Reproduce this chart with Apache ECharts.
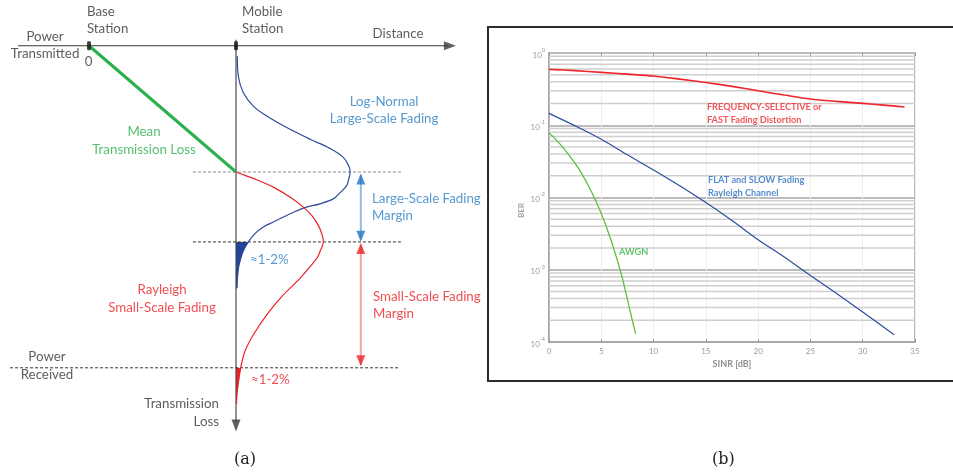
<!DOCTYPE html>
<html><head><meta charset="utf-8">
<script src="https://cdn.jsdelivr.net/npm/echarts@6/dist/echarts.min.js"></script>
<style>html,body{margin:0;padding:0;background:#fff}#c{width:953px;height:475px}</style>
</head><body><div id="c"></div>
<script>
// ---------- (a) link budget: distance (base station = 0, mobile station = 1) vs. normalised loss
const meanLossPath = [[0, 0], [1, 1]];
const meanLoss = 1.0;
const largeScaleEdge = 1.554;
const powerReceived = 2.551;
const axisEnds = { distMin: -0.483, distMax: 2.44, lossTop: -0.047, lossBottom: 2.98 };

// log-normal (large-scale) fading pdf drawn sideways from the mobile station
const lognormLoss    = [0.084, 0.242, 0.372, 0.478, 0.557, 0.648, 0.740, 0.813, 0.884, 0.963, 1.004, 1.063, 1.108, 1.165, 1.213, 1.252, 1.286, 1.344, 1.396, 1.435, 1.488, 1.554, 1.630, 1.740, 1.843, 1.921];
const lognormDensity = [0.009, 0.016, 0.050, 0.118, 0.209, 0.345, 0.503, 0.639, 0.730, 0.771, 0.776, 0.765, 0.753, 0.707, 0.662, 0.571, 0.458, 0.345, 0.254, 0.186, 0.129, 0.084, 0.048, 0.020, 0.010, 0.007];

// Rayleigh (small-scale) fading pdf
const rayleighLoss    = [1.000, 1.008, 1.061, 1.120, 1.199, 1.278, 1.344, 1.423, 1.502, 1.554, 1.632, 1.685, 1.843, 1.974, 2.131, 2.289, 2.420, 2.551, 2.735, 2.835];
const rayleighDensity = [0.000, 0.016, 0.141, 0.254, 0.367, 0.458, 0.515, 0.560, 0.587, 0.594, 0.571, 0.549, 0.435, 0.322, 0.209, 0.118, 0.061, 0.032, 0.009, 0.003];

// fade-margin arrows: distance position and loss extents
const marginArrowDist = 1.849;
const largeMarginSpan = [1.024, 1.535];
const smallMarginSpan = [1.575, 2.528];

// text annotations: [text, distance, loss, anchor, colour]
const diagramLabels = [
  ['Power\nTransmitted', -0.299, -0.005, 'center', 'ink'],
  ['0', -0.003, 0.126, 'center', 'ink'],
  ['Base\nStation', -0.014, -0.201, 'left', 'ink'],
  ['Mobile\nStation', 1.041, -0.201, 'left', 'ink'],
  ['Distance', 2.102, -0.094, 'center', 'ink'],
  ['Log-Normal\nLarge-Scale Fading', 2.007, 0.512, 'center', 'sky'],
  ['Mean\nTransmission Loss', 0.374, 0.752, 'center', 'green'],
  ['Large-Scale Fading\nMargin', 1.925, 1.280, 'left', 'sky'],
  ['≈1-2%', 1.095, 1.691, 'left', 'sky'],
  ['Rayleigh\nSmall-Scale Fading', 0.497, 2.002, 'center', 'red'],
  ['Small-Scale Fading\nMargin', 1.932, 2.055, 'left', 'red'],
  ['Power\nReceived', -0.286, 2.535, 'center', 'ink'],
  ['≈1-2%', 1.102, 2.646, 'left', 'red'],
  ['Transmission\nLoss', 0.884, 2.908, 'right', 'ink']
];

// ---------- (b) BER versus SINR
const sinrFreqSel = [0, 2.5, 5, 7.5, 10, 12.5, 15, 17.5, 20, 22.5, 25, 27.5, 30, 32, 34];
const berFreqSel  = [0.594, 0.57, 0.54, 0.51, 0.48, 0.435, 0.39, 0.345, 0.30, 0.262, 0.231, 0.214, 0.201, 0.19, 0.179];
const sinrFlat = [0, 2.5, 5, 7.5, 10, 12.5, 15, 17.5, 20, 22.5, 25, 27.5, 30, 33];
const berFlat  = [0.146, 0.098, 0.064, 0.039, 0.024, 0.0145, 0.0085, 0.0048, 0.0026, 0.0015, 0.00083, 0.00047, 0.00026, 0.000126];
const sinrAwgn = [0, 1, 2, 3, 4, 5, 6, 7, 8, 8.3];
const berAwgn  = [0.079, 0.056, 0.037, 0.023, 0.0125, 0.006, 0.0024, 0.00078, 0.00019, 0.00013];
const sinrTicks = [0, 35, 5];
const berDecades = [-4, -3, -2, -1, 0];
const berMantissas = [2, 3, 4, 5, 6, 7, 8, 9];
const curveLabels = [
  ['FREQUENCY-SELECTIVE or\nFAST Fading Distortion', 15.1, 0.143, 'red'],
  ['FLAT and SLOW Fading\nRayleigh Channel', 15.2, 0.0142, 'blue'],
  ['AWGN', 6.7, 0.00176, 'green']
];

const C = { ink: '#333333', green: '#2bb14c', sky: '#2b7fc3', red: '#ec2228', navy: '#2d4a9c', fill: '#23429a' };
const BC = { red: '#ee2a2f', blue: '#2a6fc0', green: '#3cb44a' };
const FONT = 'Lato';

const zip = (a, b) => a.map((v, i) => [v, b[i]]);
const sideways = (loss, dens) => loss.map((l, i) => [1 + dens[i], l]);
const lognormPts = sideways(lognormLoss, lognormDensity);
const rayleighPts = sideways(rayleighLoss, rayleighDensity);

// tail areas beyond the margins, closed back along the loss axis
function tail(pts, from) {
  const t = pts.filter(p => p[1] >= from - 1e-9);
  return t.concat([[1, t[t.length - 1][1]], [1, from]]);
}
function areaSeries(poly, color) {
  return {
    type: 'custom', coordinateSystem: 'cartesian2d', xAxisIndex: 0, yAxisIndex: 0,
    data: [[0, 0]], z: 2, silent: true,
    renderItem: (params, api) => ({
      type: 'polygon',
      shape: { points: poly.map(p => api.coord(p)) },
      style: { fill: color }
    })
  };
}
function segment(pts, color, width, extra) {
  return Object.assign({
    type: 'line', xAxisIndex: 0, yAxisIndex: 0, data: pts, symbol: 'none', silent: true,
    lineStyle: { color: color, width: width }, z: 3
  }, extra || {});
}
const triDown = 'path://M0,0L10,0L5,10Z';
const triUp = 'path://M5,0L10,10L0,10Z';
const triRight = 'path://M0,0L10,5L0,10Z';

// 2..9 x 10^k helper grid lines of the log BER axis
const minorGrid = [];
berDecades.slice(0, -1).forEach(e => berMantissas.forEach(m => minorGrid.push(m * Math.pow(10, e))));

const labelData = diagramLabels.map(([t, x, y, anchor, col]) => ({
  value: [x, y],
  label: {
    show: true, formatter: t, color: C[col], fontFamily: FONT, fontSize: 13.3, lineHeight: 17.5,
    position: anchor === 'center' ? 'inside' : (anchor === 'left' ? 'right' : 'left'),
    distance: 0, align: anchor === 'center' ? 'center' : anchor
  }
}));

const chart = echarts.init(document.getElementById('c'), null, { renderer: 'canvas' });
chart.setOption({
  animation: false,
  backgroundColor: '#ffffff',
  title: [
    { text: '(a)', left: 229, top: 447, textStyle: { fontFamily: 'DejaVu Serif', fontWeight: 'normal', fontSize: 16, color: '#222' } },
    { text: '(b)', left: 707, top: 447, textStyle: { fontFamily: 'DejaVu Serif', fontWeight: 'normal', fontSize: 16, color: '#222' } }
  ],
  graphic: [{
    type: 'rect', z: 0, silent: true,
    shape: { x: 488, y: 27, width: 475, height: 354 },
    style: { fill: null, stroke: '#2b2b2b', lineWidth: 2 }
  }],
  grid: [
    { left: 0.8, top: 1.55, width: 455.7, height: 476.25, show: false },
    { left: 549, top: 53, width: 366, height: 289, show: true, borderColor: '#a3a3a3', borderWidth: 1.5 }
  ],
  xAxis: [
    { gridIndex: 0, type: 'value', min: -0.6, max: 2.5, show: false },
    {
      gridIndex: 1, type: 'value', min: sinrTicks[0], max: sinrTicks[1], interval: sinrTicks[2],
      axisLine: { lineStyle: { color: '#a3a3a3', width: 1.5 } },
      axisTick: { inside: true, length: 3, lineStyle: { color: '#999' } },
      axisLabel: { color: '#9a9a9a', fontSize: 8, margin: 5, fontFamily: FONT },
      splitLine: { show: true, lineStyle: { color: '#eeeeee', width: 1 } },
      name: 'SINR [dB]', nameLocation: 'middle', nameGap: 17,
      nameTextStyle: { color: '#8e8e8e', fontSize: 9, fontWeight: 'bold', fontFamily: FONT }
    },
    {
      gridIndex: 1, type: 'value', position: 'top', min: sinrTicks[0], max: sinrTicks[1], interval: sinrTicks[2],
      axisLine: { show: false }, axisTick: { inside: true, length: 3, lineStyle: { color: '#999' } },
      axisLabel: { show: false }, splitLine: { show: false }
    }
  ],
  yAxis: [
    { gridIndex: 0, type: 'value', min: -0.35, max: 3.4, inverse: true, show: false },
    {
      gridIndex: 1, type: 'log', logBase: 10, min: 1e-4, max: 1,
      axisLine: { lineStyle: { color: '#a3a3a3', width: 1.5 } },
      axisTick: { show: false },
      axisLabel: {
        margin: 4, fontFamily: FONT,
        formatter: v => '{b|10}{s|' + Math.round(Math.log10(v)) + '}',
        rich: {
          b: { fontSize: 8, color: '#9a9a9a', fontFamily: FONT, lineHeight: 12, verticalAlign: 'bottom' },
          s: { fontSize: 5.5, color: '#9a9a9a', fontFamily: FONT, lineHeight: 12, verticalAlign: 'top', padding: [0, 0, 6, 0] }
        }
      },
      splitLine: { show: true, lineStyle: { color: '#bcbcbc', width: 2.2 } },
      name: 'BER', nameLocation: 'middle', nameGap: 24, nameRotate: 90,
      nameTextStyle: { color: '#a0a0a0', fontSize: 8, fontWeight: 'bold', fontFamily: FONT, padding: [0, 26, 0, 0] }
    }
  ],
  series: [
    // ----- (a)
    areaSeries(tail(lognormPts, largeScaleEdge), C.fill),
    areaSeries(tail(rayleighPts, powerReceived), C.red),
    segment([[0.707, meanLoss], [2.129, meanLoss]], '#8a8a8a', 1, { lineStyle: { color: '#8a8a8a', width: 1, type: [3, 2] } }),
    segment([[0.707, largeScaleEdge], [2.129, largeScaleEdge]], '#333', 1, { lineStyle: { color: '#333', width: 1, type: [3, 2] } }),
    segment([[-0.537, powerReceived], [2.116, powerReceived]], '#333', 1, { lineStyle: { color: '#333', width: 1, type: [3, 2] } }),
    segment([[axisEnds.distMin, 0], [axisEnds.distMax, 0]], '#3a3a3a', 1.2),
    segment([[1, axisEnds.lossTop], [1, axisEnds.lossBottom]], '#4a4a4a', 1.2),
    segment(meanLossPath, C.green, 3, { z: 4 }),
    segment(lognormPts, C.navy, 1.2, { smooth: 0.35, z: 4 }),
    segment(rayleighPts, C.red, 1.2, { smooth: 0.35, z: 4 }),
    segment([[marginArrowDist, largeMarginSpan[0]], [marginArrowDist, largeMarginSpan[1]]], '#8dbbe3', 2),
    segment([[marginArrowDist, smallMarginSpan[0]], [marginArrowDist, smallMarginSpan[1]]], '#f4a3a3', 2),
    {
      type: 'scatter', xAxisIndex: 0, yAxisIndex: 0, silent: true, z: 5,
      data: [
        { value: [axisEnds.distMax + 0.015, 0], symbol: triRight, symbolSize: [12, 9], itemStyle: { color: '#3a3a3a' } },
        { value: [1, axisEnds.lossBottom + 0.028], symbol: triDown, symbolSize: [9, 12], itemStyle: { color: '#3a3a3a' } },
        { value: [0, 0], symbol: 'roundRect', symbolSize: [4, 9], itemStyle: { color: '#111' } },
        { value: [1, 0], symbol: 'roundRect', symbolSize: [4, 9], itemStyle: { color: '#111' } },
        { value: [marginArrowDist, largeMarginSpan[0] + 0.031], symbol: triUp, symbolSize: [9, 11], itemStyle: { color: '#2577c4' } },
        { value: [marginArrowDist, largeMarginSpan[1] - 0.027], symbol: triDown, symbolSize: [9, 11], itemStyle: { color: '#2577c4' } },
        { value: [marginArrowDist, smallMarginSpan[0] + 0.031], symbol: triUp, symbolSize: [9, 11], itemStyle: { color: '#ec2228' } },
        { value: [marginArrowDist, smallMarginSpan[1] - 0.032], symbol: triDown, symbolSize: [9, 11], itemStyle: { color: '#ec2228' } }
      ]
    },
    {
      type: 'scatter', xAxisIndex: 0, yAxisIndex: 0, silent: true, z: 6,
      symbolSize: 0, data: labelData
    },
    // ----- (b)
    {
      type: 'custom', coordinateSystem: 'cartesian2d', xAxisIndex: 1, yAxisIndex: 1, silent: true, z: 1,
      data: minorGrid.map(v => [sinrTicks[0], v]),
      renderItem: (params, api) => {
        const a = api.coord([sinrTicks[0], api.value(1)]);
        const b = api.coord([sinrTicks[1], api.value(1)]);
        return { type: 'line', shape: { x1: a[0], y1: a[1], x2: b[0], y2: b[1] }, style: { stroke: '#cfcfcf', lineWidth: 1.6 } };
      }
    },
    {
      type: 'line', xAxisIndex: 1, yAxisIndex: 1, data: zip(sinrFreqSel, berFreqSel), symbol: 'none',
      smooth: 0.3, lineStyle: { color: '#f0242b', width: 1.6 }, z: 3, silent: true
    },
    {
      type: 'line', xAxisIndex: 1, yAxisIndex: 1, data: zip(sinrFlat, berFlat), symbol: 'none',
      smooth: 0.3, lineStyle: { color: '#2b4d9f', width: 1.2 }, z: 3, silent: true
    },
    {
      type: 'line', xAxisIndex: 1, yAxisIndex: 1, data: zip(sinrAwgn, berAwgn), symbol: 'none',
      smooth: 0.3, lineStyle: { color: '#5dbe3e', width: 1.3 }, z: 3, silent: true
    },
    {
      type: 'scatter', xAxisIndex: 1, yAxisIndex: 1, silent: true, z: 6, symbolSize: 0,
      data: curveLabels.map(([t, x, y, col]) => ({
        value: [x, y],
        label: {
          show: true, formatter: t, position: 'right', distance: 0, align: 'left',
          color: BC[col], fontFamily: FONT, fontSize: 9.2, fontWeight: 'bold', lineHeight: 13
        }
      }))
    }
  ]
});
</script>
</body></html>
